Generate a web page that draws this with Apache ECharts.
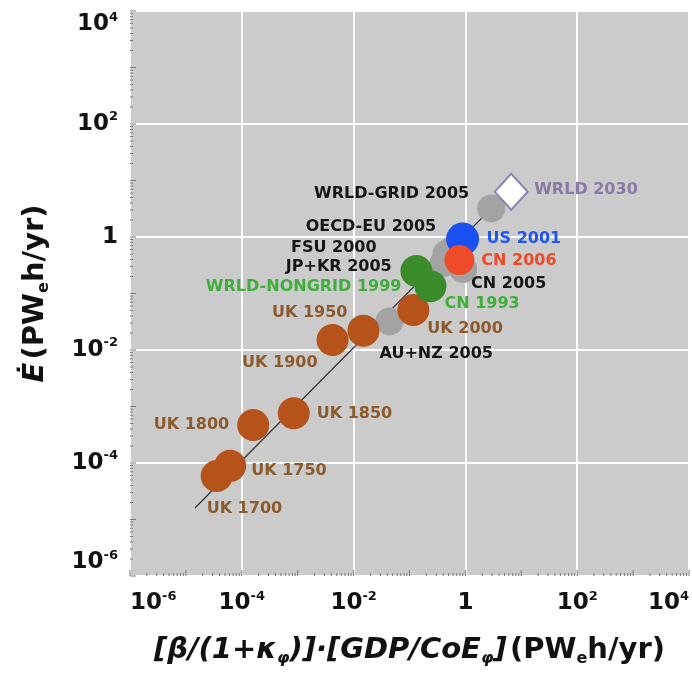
<!DOCTYPE html>
<html><head><meta charset="utf-8">
<script src="https://cdn.jsdelivr.net/npm/echarts@6/dist/echarts.min.js"></script>
<style>html,body{margin:0;padding:0;background:#fff}#c{width:692px;height:675px}</style>
</head><body><div id="c"></div>
<script>
// ---------- data ----------
const ukNames = ['UK 1700','UK 1750','UK 1800','UK 1850','UK 1900','UK 1950','UK 2000'];
const ukX = [3.55e-5, 6.2e-5, 1.6e-4, 8.5e-4, 4.2e-3, 1.5e-2, 0.117];
const ukY = [5.9e-5, 8.9e-5, 4.7e-4, 7.6e-4, 1.5e-2, 2.2e-2, 0.051];

const grayNames = ['AU+NZ 2005','JP+KR 2005','FSU 2000','OECD-EU 2005','CN 2005','WRLD-GRID 2005'];
const grayX = [0.044, 0.41, 0.46, 0.63, 0.91, 2.9];
const grayY = [0.032, 0.35, 0.50, 0.62, 0.27, 3.2];

const greenNames = ['CN 1993','WRLD-NONGRID 1999'];
const greenX = [0.237, 0.133];
const greenY = [0.135, 0.25];

const usNames = ['US 2001'];
const usX = [0.89];
const usY = [0.92];

const cnNames = ['CN 2006'];
const cnX = [0.78];
const cnY = [0.39];

const futureNames = ['WRLD 2030'];
const futureX = [6.6];
const futureY = [6.3];

const fitX = [1.45e-5, 2.9];
const fitY = [1.6e-5, 3.2];

const xTickValues = [1e-6, 1e-4, 1e-2, 1, 1e2, 1e4];
const xTickLabels = ['10^-6','10^-4','10^-2','1','10^2','10^4'];
const yTickValues = [1e-6, 1e-4, 1e-2, 1, 1e2, 1e4];
const yTickLabels = ['10^-6','10^-4','10^-2','1','10^2','10^4'];

// ---------- label placement (style only) ----------
const labelPlace = {
  'UK 1700': ['left', -10, 33],
  'UK 1750': ['left', 21, 5],
  'UK 1800': ['right', -24, 0],
  'UK 1850': ['left', 23, 1],
  'UK 1900': ['right', -15, 23],
  'UK 1950': ['right', -16, -18],
  'UK 2000': ['left', 14, 19],
  'AU+NZ 2005': ['left', -10, 32],
  'JP+KR 2005': ['right', -52, 4],
  'FSU 2000': ['right', -70, -6],
  'OECD-EU 2005': ['right', -18, -22],
  'CN 2005': ['left', 8, 15],
  'WRLD-GRID 2005': ['right', -22, -15],
  'CN 1993': ['left', 14, 18],
  'WRLD-NONGRID 1999': ['right', -15, 16],
  'US 2001': ['left', 24, 0],
  'CN 2006': ['left', 22, 1],
  'WRLD 2030': ['left', 23, -2]
};

const FONT = 'DejaVu Sans';

function pts(names, xs, ys, color) {
  return names.map((n, i) => {
    const p = labelPlace[n];
    return {
      name: n,
      value: [xs[i], ys[i]],
      label: {
        show: true, position: 'inside', formatter: n,
        align: p[0], verticalAlign: 'middle', offset: [p[1], p[2]],
        color: color, fontFamily: FONT, fontWeight: 'bold', fontSize: 16
      }
    };
  });
}

function tickFmt(values, labels) {
  return function (v) {
    let idx = -1;
    for (let i = 0; i < values.length; i++) {
      if (Math.abs(Math.log10(v) - Math.log10(values[i])) < 1e-6) idx = i;
    }
    if (idx < 0) return '';
    const s = labels[idx];
    if (s.indexOf('^') < 0) return '{b|' + s + '}';
    const parts = s.split('^');
    return '{b|' + parts[0] + '}{s|' + parts[1] + '}';
  };
}

const tickRich = {
  b: { fontFamily: FONT, fontWeight: 'bold', fontSize: 23, color: '#111', lineHeight: 27 },
  s: { fontFamily: FONT, fontWeight: 'bold', fontSize: 13, color: '#111', lineHeight: 14, verticalAlign: 'top' }
};

// minor ticks (decoration following the log scale)
const minorTicks = [];
for (let k = -6; k < 4; k++) for (let m = 1; m <= 9; m++) minorTicks.push([m, Math.pow(10, k) * m]);
minorTicks.push([1, 1e4]);

const chart = echarts.init(document.getElementById('c'), null, { renderer: 'canvas' });

chart.setOption({
  animation: false,
  backgroundColor: '#ffffff',
  grid: {
    left: 130, right: 2, top: 11, bottom: 99,
    show: true, backgroundColor: '#cbcbcb', borderColor: '#9a9a9a', borderWidth: 1
  },
  xAxis: {
    type: 'log', logBase: 10, min: 1e-6, max: 1e4, interval: 2,
    axisLine: { show: false }, axisTick: { show: false },
    splitLine: { show: true, lineStyle: { color: '#ffffff', width: 2 } },
    axisLabel: {
      margin: 14, formatter: tickFmt(xTickValues, xTickLabels), rich: tickRich,
      alignMinLabel: 'left', alignMaxLabel: 'right'
    },
    name: '{i|[β/(1+κ}{isub|φ}{i|)]·[GDP/CoE}{isub|φ}{i|]} {n|(PW}{sub|e}{n|h/yr)}',
    nameLocation: 'middle', nameGap: 57,
    nameTextStyle: {
      rich: {
        i: { fontFamily: FONT, fontWeight: 'bold', fontStyle: 'italic', fontSize: 29, color: '#111', lineHeight: 34 },
        isub: { fontFamily: FONT, fontWeight: 'bold', fontStyle: 'italic', fontSize: 16, color: '#111', lineHeight: 19, verticalAlign: 'bottom' },
        n: { fontFamily: FONT, fontWeight: 'bold', fontSize: 29, color: '#111', lineHeight: 34 },
        sub: { fontFamily: FONT, fontWeight: 'bold', fontSize: 16, color: '#111', lineHeight: 19, verticalAlign: 'bottom' }
      }
    }
  },
  yAxis: {
    type: 'log', logBase: 10, min: 1e-6, max: 1e4, interval: 2,
    axisLine: { show: false }, axisTick: { show: false },
    splitLine: { show: true, lineStyle: { color: '#ffffff', width: 2 } },
    axisLabel: {
      margin: 12, formatter: tickFmt(yTickValues, yTickLabels), rich: tickRich,
      verticalAlignMinLabel: 'bottom', verticalAlignMaxLabel: 'top'
    },
    name: '{ei|Ė} {n|(PW}{sub|e}{n|h/yr)}',
    nameLocation: 'middle', nameGap: 78,
    nameTextStyle: {
      rich: {
        ei: { fontFamily: FONT, fontWeight: 'bold', fontStyle: 'italic', fontSize: 29, color: '#111', lineHeight: 34 },
        n: { fontFamily: FONT, fontWeight: 'bold', fontSize: 29, color: '#111', lineHeight: 34 },
        sub: { fontFamily: FONT, fontWeight: 'bold', fontSize: 16, color: '#111', lineHeight: 19, verticalAlign: 'bottom' }
      }
    }
  },
  series: [
    {
      type: 'custom', silent: true, z: 1,
      data: minorTicks.map(t => [t[1], 1e-6, t[0]]),
      renderItem: function (params, api) {
        const p = api.coord([api.value(0), 1e-6]);
        const len = api.value(2) === 1 ? 6 : 3;
        return { type: 'line', shape: { x1: p[0], y1: p[1], x2: p[0], y2: p[1] - len },
                 style: { stroke: '#7a7a7a', lineWidth: 1 } };
      }
    },
    {
      type: 'custom', silent: true, z: 1,
      data: minorTicks.map(t => [1e-6, t[1], t[0]]),
      renderItem: function (params, api) {
        const p = api.coord([1e-6, api.value(1)]);
        const len = api.value(2) === 1 ? 6 : 3;
        return { type: 'line', shape: { x1: p[0], y1: p[1], x2: p[0] + len, y2: p[1] },
                 style: { stroke: '#7a7a7a', lineWidth: 1 } };
      }
    },
    {
      type: 'line', z: 2, symbol: 'none', silent: true,
      data: fitX.map((x, i) => [x, fitY[i]]),
      lineStyle: { color: '#333', width: 1.2 }
    },
    {
      type: 'scatter', z: 3, symbolSize: 28,
      itemStyle: { color: '#a3a3a3', opacity: 1 },
      data: pts(grayNames, grayX, grayY, '#151515')
    },
    {
      type: 'scatter', z: 4, symbolSize: 32,
      itemStyle: { color: '#b5531b', opacity: 1 },
      data: pts(ukNames, ukX, ukY, '#8c5a2b')
    },
    {
      type: 'scatter', z: 5, symbolSize: 32,
      itemStyle: { color: '#3a8c2a', opacity: 1 },
      data: pts(greenNames, greenX, greenY, '#3fae3a')
    },
    {
      type: 'scatter', z: 6, symbolSize: 33,
      itemStyle: { color: '#1a4ff0', opacity: 1 },
      data: pts(usNames, usX, usY, '#2156f0')
    },
    {
      type: 'scatter', z: 7, symbolSize: 30,
      itemStyle: { color: '#ee4b2b', opacity: 1 },
      data: pts(cnNames, cnX, cnY, '#ee4a26')
    },
    {
      type: 'scatter', z: 8, symbol: 'diamond', symbolSize: [33, 36],
      itemStyle: { color: '#ffffff', borderColor: '#9080b8', borderWidth: 2, opacity: 1 },
      data: pts(futureNames, futureX, futureY, '#8a7aa8')
    }
  ]
});
</script>
</body></html>
